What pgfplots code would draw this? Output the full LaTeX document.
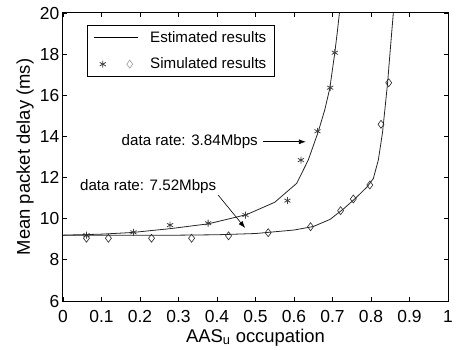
\documentclass[border=0pt]{standalone}
\usepackage{pgfplots}
\pgfplotsset{compat=1.18}
\usepackage{fontspec}
\setmainfont{Liberation Sans}
\usetikzlibrary{arrows.meta}
\begin{document}
\begin{tikzpicture}
\useasboundingbox (-63bp,-49bp) rectangle (397bp,301bp);
\begin{axis}[
  scale only axis, width=385bp, height=288bp,
  xmin=0, xmax=1, ymin=6, ymax=20,
  xtick={0,0.1,0.2,0.3,0.4,0.5,0.6,0.7,0.8,0.9,1},
  xticklabels={0,0.1,0.2,0.3,0.4,0.5,0.6,0.7,0.8,0.9,1},
  ytick={6,8,10,12,14,16,18,20},
  yticklabels={6,8,10,12,14,16,18,20},
  tick align=inside, major tick length=4bp,
  axis line style={line width=1bp},
  every tick/.style={black, line width=0.8bp},
  ticklabel style={font=\fontsize{17.5}{21}\selectfont, inner sep=1bp},
  xticklabel style={yshift=-8bp},
  yticklabel style={xshift=-2.5bp},
  xlabel={AAS\textsubscript{u} occupation},
  ylabel={Mean packet delay (ms)},
  label style={font=\fontsize{18.5}{22}\selectfont},
  xlabel style={at={(axis description cs:0.5,-0.1424)}, anchor=base},
  ylabel style={at={(axis description cs:-0.0987,0.5)}, anchor=center},
  legend cell align=left,
  legend style={at={(axis description cs:0.0623,0.958)}, anchor=north west,
    draw=black, line width=0.8bp, font=\fontsize{15.2}{18}\selectfont,
    inner xsep=6bp, inner ysep=4bp, row sep=10bp, column sep=10bp},
]
\addlegendimage{legend image code/.code={\draw[black, line width=0.8bp] (0bp,0bp) -- (44bp,0bp);}}
\addlegendentry{Estimated results}
\addlegendimage{legend image code/.code={
  \path[black!75, line width=0.8bp] plot[only marks, mark=asterisk, mark size=3.5bp] coordinates {(9bp,0bp)};
  \path[black!40, line width=0.6bp] plot[only marks, mark=diamond, mark size=4bp] coordinates {(36bp,0bp)};
  \path (44bp,0bp);}}
\addlegendentry{Simulated results}

% Estimated, 3.84 Mbps
\addplot[black!85, line width=0.8bp, forget plot] coordinates {
(0,9.2) (0.1,9.25) (0.18,9.33) (0.28,9.52) (0.377,9.75) (0.477,10.2)
(0.55,10.8) (0.607,11.72) (0.637,12.85) (0.663,14.23) (0.68,15.3)
(0.693,16.34) (0.706,18.07) (0.712,19.0) (0.718,20)};
% Estimated, 7.52 Mbps
\addplot[black!85, line width=0.8bp, forget plot] coordinates {
(0,9.2) (0.3,9.2) (0.4,9.22) (0.5,9.28) (0.6,9.45) (0.65,9.62) (0.694,9.97)
(0.73,10.5) (0.76,11.0) (0.79,11.55) (0.806,11.95) (0.819,12.85) (0.83,14.2)
(0.843,16.58) (0.85,18.2) (0.858,20)};
% Simulated, 3.84 Mbps
\addplot[only marks, mark=asterisk, mark size=3.5bp, black!75, line width=0.8bp, forget plot] coordinates {
(0.061,9.2) (0.183,9.34) (0.278,9.69) (0.377,9.78) (0.474,10.18) (0.583,10.88)
(0.618,12.85) (0.661,14.25) (0.694,16.37) (0.706,18.07)};
% Simulated, 7.52 Mbps
\addplot[only marks, mark=diamond, mark size=4bp, black!85, line width=0.6bp, forget plot] coordinates {
(0.061,9.05) (0.118,9.05) (0.23,9.05) (0.334,9.05) (0.43,9.17) (0.533,9.32)
(0.643,9.61) (0.721,10.39) (0.754,10.96) (0.797,11.64) (0.826,14.59) (0.846,16.61)};

\node[anchor=base west, inner sep=0pt, font=\fontsize{15.2}{18}\selectfont] at (axis cs:0.152,13.55) {data rate: 3.84Mbps};
\draw[-{Latex[length=7bp,width=5bp]}, line width=0.8bp] (axis cs:0.519,13.74) -- (axis cs:0.631,13.74);
\node[anchor=base west, inner sep=0pt, font=\fontsize{15.2}{18}\selectfont] at (axis cs:0.044,11.39) {data rate: 7.52Mbps};
\draw[-{Latex[length=7bp,width=5bp]}, line width=0.6bp] (axis cs:0.403,11.15) -- (axis cs:0.473,9.55);
\end{axis}
\end{tikzpicture}
\end{document}
